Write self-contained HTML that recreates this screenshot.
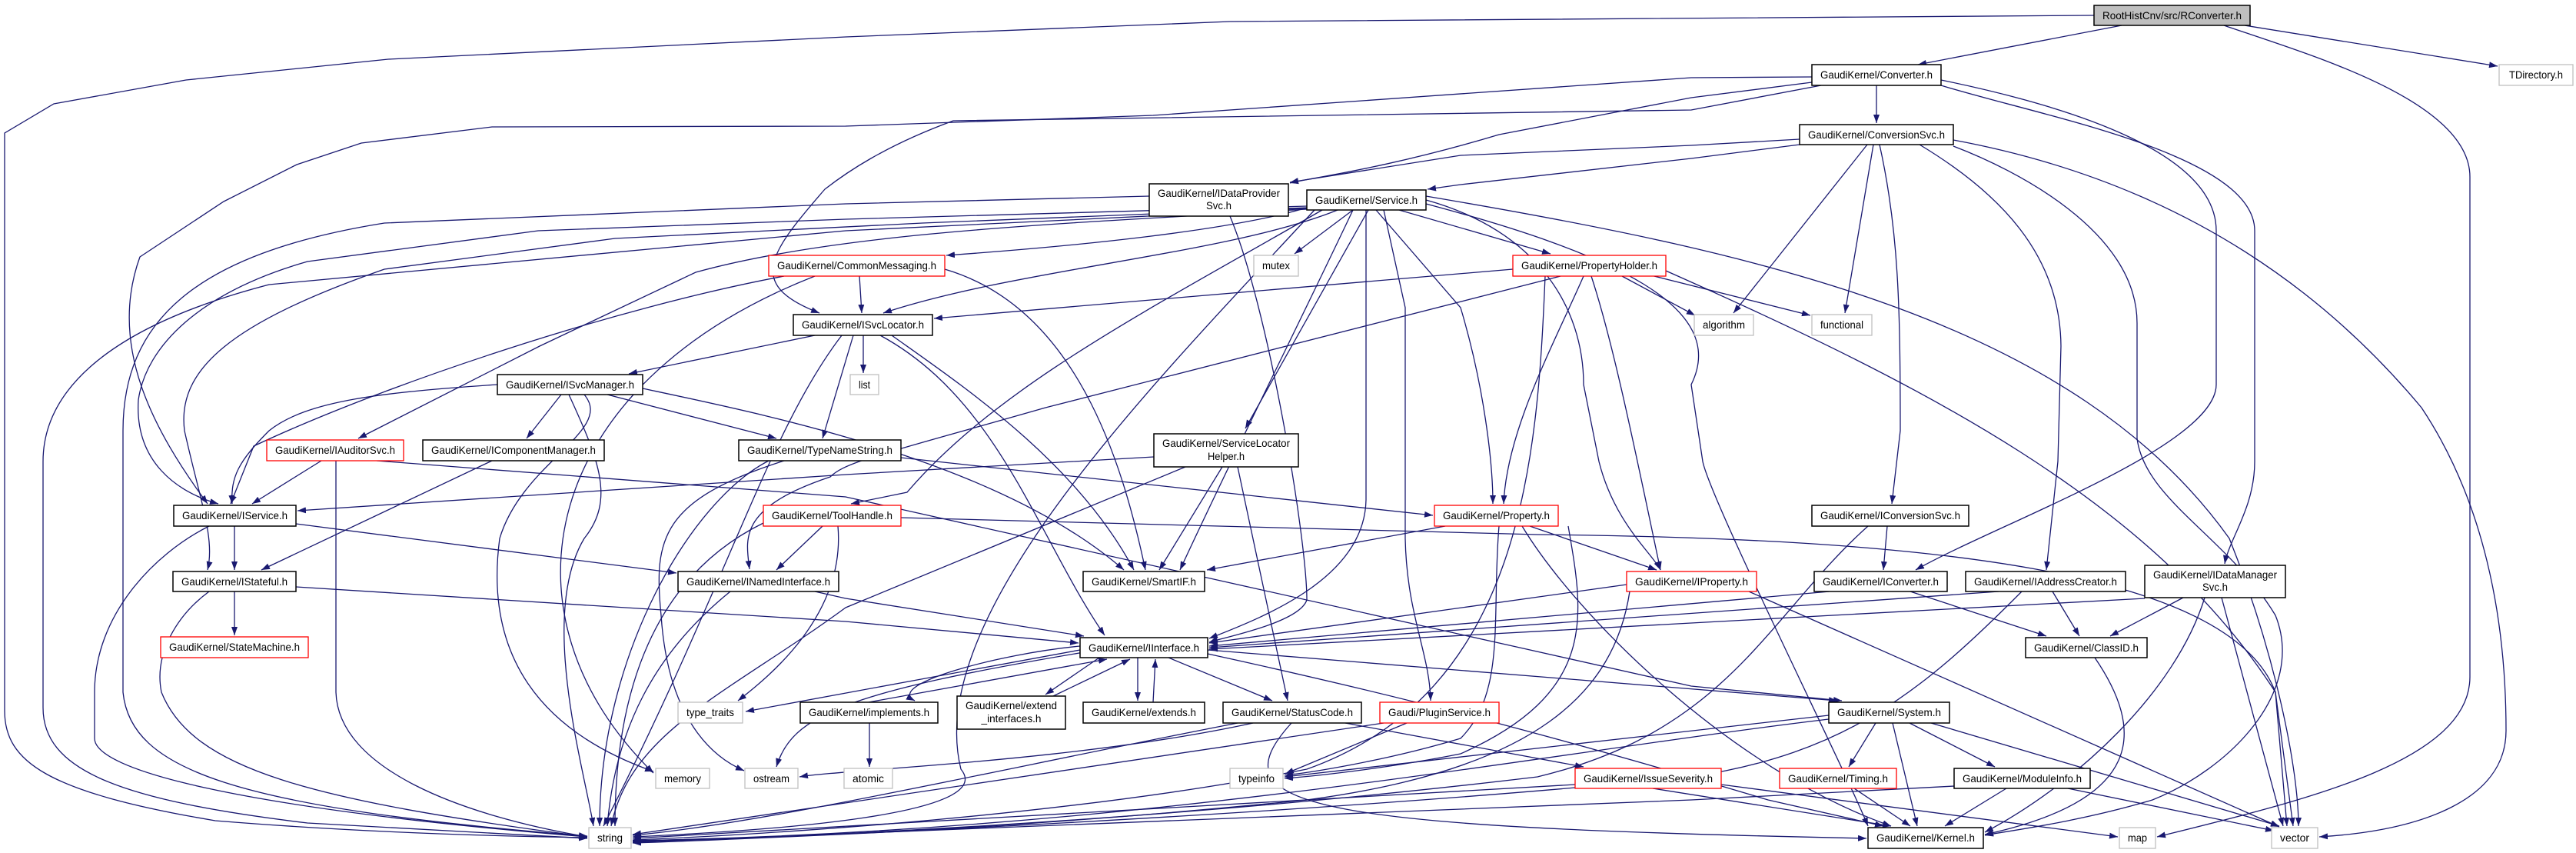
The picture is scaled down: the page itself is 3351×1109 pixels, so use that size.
<!DOCTYPE html>
<html><head><meta charset="utf-8"><style>
html,body{margin:0;padding:0;background:#fff;}
svg{display:block;}
text{font-family:"Liberation Sans",sans-serif;font-size:14px;fill:#000;}
.e{fill:none;stroke:#191970;stroke-width:1.3;marker-end:url(#a);}
.n{fill:#fff;stroke:#000;stroke-width:1.5;}
.r{fill:#fff;stroke:#ff0000;stroke-width:1.3;}
.g{fill:#fff;stroke:#bfbfbf;stroke-width:1.3;}
</style></head><body>
<svg width="3351" height="1109" viewBox="0 0 3351 1109" xmlns="http://www.w3.org/2000/svg">
<defs><marker id="a" markerUnits="userSpaceOnUse" markerWidth="11" markerHeight="8" refX="11" refY="4" orient="auto"><path d="M0,0 L11,4 L0,8 z" fill="#191970"/></marker></defs>
<g>
<path class="e" d="M2724,20 L1600,28 L1100,48 L505,77 L242,104 L70,135 L6,173 L6,924 C6,990 60,1030 280,1067 C500,1085 700,1088 764,1089"/>
<path class="e" d="M2760,33 L2495,84"/>
<path class="e" d="M2920,33 L3249,86"/>
<path class="e" d="M2893,33 C3000,70 3213,130 3213,230 L3213,880 C3213,990 3000,1040 2806,1088"/>
<path class="e" d="M2441,111 L2441,160"/>
<path class="e" d="M2357,100 L2200,101 L1500,150 L1100,164 L640,165 L470,186 L386,214 L291,262 L182,334 C140,450 200,560 270,655"/>
<path class="e" d="M2357,107 L2200,127 L1950,175 C1800,220 1700,232 1678,238"/>
<path class="e" d="M2369,111 L2200,143 L1240,157 C1150,190 1100,225 1073,246 C1000,330 970,370 1066,407"/>
<path class="e" d="M2525,104 C2700,140 2883,200 2883,300 L2883,500 C2883,580 2600,680 2492,741"/>
<path class="e" d="M2525,111 C2650,150 2933,200 2933,300 L2933,600 C2933,660 2900,700 2894,733"/>
<path class="e" d="M2429,188 L2255,407"/>
<path class="e" d="M2437,188 L2400,407"/>
<path class="e" d="M2445,188 C2470,300 2472,400 2472,560 L2461,655"/>
<path class="e" d="M2497,188 C2600,250 2680,330 2681,450 L2677,600 L2662,741"/>
<path class="e" d="M2541,190 C2620,220 2780,300 2780,420 L2780,570 C2790,650 2900,700 2960,800 C3000,900 2900,1000 2800,1040 C2700,1070 2600,1082 2582,1086"/>
<path class="e" d="M2541,182 C2800,230 3000,350 3150,530 C3230,650 3260,800 3260,950 C3260,1040 3150,1080 3017,1088"/>
<path class="e" d="M2341,188 L2200,206 L1900,240 L1857,246"/>
<path class="e" d="M2341,181 L2200,189 L1900,202 L1678,237"/>
<path class="e" d="M1700,270 C1600,300 1400,320 1231,332"/>
<path class="e" d="M1760,273 L1684,330"/>
<path class="e" d="M1820,273 L2017,330"/>
<path class="e" d="M1740,273 C1600,330 1320,350 1149,407"/>
<path class="e" d="M1700,268 L1100,285 L700,300 L400,340 C260,380 190,450 180,520 C175,600 230,640 284,655"/>
<path class="e" d="M1700,270 L1200,290 L800,310 L500,350 C300,420 230,480 240,560 C260,650 280,700 270,741"/>
<path class="e" d="M1700,271 L1100,300 L350,370 C120,430 56,520 56,600 L56,920 C56,1000 150,1040 400,1070 L764,1090"/>
<path class="e" d="M1700,272 C1400,290 1100,300 905,354 L702,450 L466,570"/>
<path class="e" d="M1780,273 L1620,557"/>
<path class="e" d="M1800,273 L1828,400 L1828,700 C1830,800 1860,850 1861,911"/>
<path class="e" d="M1777,273 L1777,650 C1775,750 1650,800 1573,830"/>
<path class="e" d="M1790,273 L1900,400 C1930,500 1942,600 1942,655"/>
<path class="e" d="M1855,260 C2000,300 2060,400 2060,500 L2080,600 C2100,680 2150,720 2160,741"/>
<path class="e" d="M1855,265 C2100,330 2250,400 2200,500 L2215,600 C2225,650 2400,1000 2430,1074"/>
<path class="e" d="M1855,255 C2300,330 2700,420 2900,700 C2960,850 2990,1000 2990,1074"/>
<path class="e" d="M1760,273 C1700,400 1600,600 1535,741"/>
<path class="e" d="M1720,273 C1500,400 1300,500 1180,640 L1107,655"/>
<path class="e" d="M1710,273 C1500,500 1200,800 1250,1000 C1300,1060 1000,1080 823,1088"/>
<path class="e" d="M272,684 C200,720 123,800 123,900 L123,960 C123,1000 300,1050 764,1088"/>
<path class="e" d="M272,769 C230,800 200,850 210,900 C250,1000 400,1040 764,1088"/>
<path class="e" d="M437,599 L437,900 C440,1000 600,1060 764,1088"/>
<path class="e" d="M647,500 C500,510 400,520 350,560 C310,600 300,620 302,655"/>
<path class="e" d="M730,513 L685,570"/>
<path class="e" d="M790,513 L1010,570"/>
<path class="e" d="M836,505 C1000,540 1300,600 1462,741"/>
<path class="e" d="M740,513 C780,600 800,650 760,700 C700,800 760,1000 772,1074"/>
<path class="e" d="M760,513 C800,560 680,600 650,700 C630,850 700,950 850,1003"/>
<path class="e" d="M640,599 L340,741"/>
<path class="e" d="M418,599 L328,655"/>
<path class="e" d="M490,599 L1100,646 L1977,842 L2200,892 L2396,911"/>
<path class="e" d="M385,681 L880,745"/>
<path class="e" d="M305,684 L305,741"/>
<path class="e" d="M305,769 L305,826"/>
<path class="e" d="M385,763 L1100,808 L1403,836"/>
<path class="e" d="M1060,769 L1100,778 L1410,827"/>
<path class="e" d="M950,769 C850,850 800,950 790,1074"/>
<path class="e" d="M1000,599 C900,650 780,850 780,1074"/>
<path class="e" d="M1020,599 C860,650 850,700 860,800 C870,950 940,990 968,1002"/>
<path class="e" d="M1172,595 L1864,670"/>
<path class="e" d="M1501,594 L1100,617 L387,664"/>
<path class="e" d="M1590,607 L1508,741"/>
<path class="e" d="M1610,607 L1675,911"/>
<path class="e" d="M1542,607 L1100,790 C950,900 820,950 795,1074"/>
<path class="e" d="M1880,684 L1570,741"/>
<path class="e" d="M1990,684 L2155,741"/>
<path class="e" d="M1950,684 C1940,800 1960,900 1900,960 C1800,990 1700,1005 1671,1008"/>
<path class="e" d="M1980,684 C2050,800 2250,1000 2460,1074"/>
<path class="e" d="M1968,350 L1215,414"/>
<path class="e" d="M2110,359 L2205,410"/>
<path class="e" d="M2140,356 L2355,410"/>
<path class="e" d="M2060,359 C2020,450 1960,560 1956,655"/>
<path class="e" d="M2070,359 C2100,450 2130,600 2160,741"/>
<path class="e" d="M2030,359 L1360,530 C1150,590 1100,600 1080,620 C960,660 970,700 975,740"/>
<path class="e" d="M2010,359 C2000,600 1980,900 1700,1000 C1400,1060 1000,1085 823,1092"/>
<path class="e" d="M2167,352 C2500,500 2800,650 2960,900 L2975,1074"/>
<path class="e" d="M1060,436 L818,486"/>
<path class="e" d="M1123,436 L1123,485"/>
<path class="e" d="M1110,436 L1070,570"/>
<path class="e" d="M1160,436 C1250,500 1400,600 1475,741"/>
<path class="e" d="M1145,436 C1300,520 1350,700 1437,826"/>
<path class="e" d="M1095,436 C1000,560 950,750 785,1074"/>
<path class="e" d="M1118,359 L1121,407"/>
<path class="e" d="M1020,359 C800,400 500,500 330,580 L300,655"/>
<path class="e" d="M1229,350 C1400,400 1460,600 1490,741"/>
<path class="e" d="M1060,359 C700,500 640,800 850,1005"/>
<path class="e" d="M1070,684 L1010,741"/>
<path class="e" d="M1090,684 C1100,800 1000,880 960,911"/>
<path class="e" d="M993,680 C850,750 800,900 800,1074"/>
<path class="e" d="M1172,673 L2000,695 C2500,700 2900,740 2960,900 L2983,1074"/>
<path class="e" d="M1600,281 C1650,400 1700,700 1700,780 C1690,810 1590,829 1573,835"/>
<path class="e" d="M1495,255 L1100,265 L500,290 C250,330 160,420 160,560 L160,900 C170,1000 300,1050 764,1087"/>
<path class="e" d="M1405,840 C1300,850 1150,890 1190,911"/>
<path class="e" d="M1430,855 L1360,903"/>
<path class="e" d="M1480,855 L1480,911"/>
<path class="e" d="M1520,855 L1655,911"/>
<path class="e" d="M1405,845 L970,925"/>
<path class="e" d="M1410,848 C1100,900 1030,930 1010,997"/>
<path class="e" d="M1571,845 L2390,911"/>
<path class="e" d="M1571,850 C1800,900 2000,950 2300,1040 L2450,1074"/>
<path class="e" d="M1500,913 L1503,857"/>
<path class="e" d="M1130,913 L1440,857"/>
<path class="e" d="M1370,905 L1470,857"/>
<path class="e" d="M1131,940 L1131,997"/>
<path class="e" d="M1630,940 C1400,990 1100,1000 1040,1010"/>
<path class="e" d="M1750,940 L2060,997"/>
<path class="e" d="M1680,940 C1580,1050 1700,1075 2428,1090"/>
<path class="e" d="M1610,940 C1300,1000 1000,1070 823,1086"/>
<path class="e" d="M1830,940 L1672,1006"/>
<path class="e" d="M1800,940 L823,1085"/>
<path class="e" d="M2049,1020 L823,1090"/>
<path class="e" d="M2150,1025 L2460,1074"/>
<path class="e" d="M2239,1020 L2755,1088"/>
<path class="e" d="M2379,930 L1671,1010"/>
<path class="e" d="M2440,940 L2405,997"/>
<path class="e" d="M2484,940 L2595,997"/>
<path class="e" d="M2462,940 L2494,1074"/>
<path class="e" d="M2512,940 L2965,1074"/>
<path class="e" d="M2379,935 C2000,980 1500,1080 823,1093"/>
<path class="e" d="M2412,1025 L2485,1074"/>
<path class="e" d="M2610,1025 L2530,1074"/>
<path class="e" d="M2690,1025 L2958,1080"/>
<path class="e" d="M2542,1022 L2200,1040 L823,1095"/>
<path class="e" d="M2380,769 L1573,840"/>
<path class="e" d="M2485,769 L2662,827"/>
<path class="e" d="M2455,684 L2450,741"/>
<path class="e" d="M2430,684 C2300,800 2250,950 2000,1010 C1500,1070 1000,1090 823,1094"/>
<path class="e" d="M2670,769 L2705,827"/>
<path class="e" d="M2600,769 L1573,842"/>
<path class="e" d="M2630,769 C2500,900 2400,980 2200,1010 C1700,1060 1000,1090 823,1096"/>
<path class="e" d="M2840,777 L2745,827"/>
<path class="e" d="M2790,778 L1573,844"/>
<path class="e" d="M2890,777 L2970,1074"/>
<path class="e" d="M2868,777 C2830,900 2700,1020 2582,1082"/>
<path class="e" d="M2725,855 C2790,950 2790,1040 2582,1085"/>
<path class="e" d="M2116,760 L1573,836"/>
<path class="e" d="M2275,769 L2965,1075"/>
<path class="e" d="M2120,769 C2100,900 2000,1000 1700,1040 C1300,1080 1000,1090 823,1093"/>
<path class="e" d="M2040,684 C2060,800 2080,900 1900,980 C1800,1000 1700,1010 1671,1012"/>
</g>
<g>
<rect x="2724" y="7" width="203" height="26" fill="#bfbfbf" stroke="#000" stroke-width="1.5"/><text x="2825.5" y="25" text-anchor="middle" textLength="181" lengthAdjust="spacingAndGlyphs">RootHistCnv/src/RConverter.h</text>
<rect class="n" x="2357" y="84" width="168" height="27"/><text x="2441" y="102" text-anchor="middle" textLength="146" lengthAdjust="spacingAndGlyphs">GaudiKernel/Converter.h</text>
<rect class="g" x="3251" y="84" width="96" height="27"/><text x="3299" y="102" text-anchor="middle" textLength="70" lengthAdjust="spacingAndGlyphs">TDirectory.h</text>
<rect class="n" x="2341" y="162" width="200" height="26"/><text x="2441" y="180" text-anchor="middle" textLength="178" lengthAdjust="spacingAndGlyphs">GaudiKernel/ConversionSvc.h</text>
<rect class="n" x="1495" y="239" width="181" height="42"/><text x="1585.5" y="256" text-anchor="middle" textLength="159" lengthAdjust="spacingAndGlyphs">GaudiKernel/IDataProvider</text><text x="1585.5" y="272" text-anchor="middle" textLength="33" lengthAdjust="spacingAndGlyphs">Svc.h</text>
<rect class="n" x="1700" y="247" width="155" height="26"/><text x="1777.5" y="265" text-anchor="middle" textLength="133" lengthAdjust="spacingAndGlyphs">GaudiKernel/Service.h</text>
<rect class="r" x="1000" y="332" width="229" height="27"/><text x="1114.5" y="350" text-anchor="middle" textLength="207" lengthAdjust="spacingAndGlyphs">GaudiKernel/CommonMessaging.h</text>
<rect class="g" x="1631" y="332" width="58" height="27"/><text x="1660" y="350" text-anchor="middle" textLength="36" lengthAdjust="spacingAndGlyphs">mutex</text>
<rect class="r" x="1968" y="332" width="199" height="27"/><text x="2067.5" y="350" text-anchor="middle" textLength="177" lengthAdjust="spacingAndGlyphs">GaudiKernel/PropertyHolder.h</text>
<rect class="g" x="2204" y="409" width="77" height="27"/><text x="2242.5" y="427" text-anchor="middle" textLength="55" lengthAdjust="spacingAndGlyphs">algorithm</text>
<rect class="g" x="2357" y="409" width="78" height="27"/><text x="2396" y="427" text-anchor="middle" textLength="56" lengthAdjust="spacingAndGlyphs">functional</text>
<rect class="n" x="1032" y="409" width="181" height="27"/><text x="1122.5" y="427" text-anchor="middle" textLength="159" lengthAdjust="spacingAndGlyphs">GaudiKernel/ISvcLocator.h</text>
<rect class="g" x="1106" y="487" width="37" height="26"/><text x="1124.5" y="505" text-anchor="middle" textLength="15" lengthAdjust="spacingAndGlyphs">list</text>
<rect class="n" x="647" y="487" width="189" height="26"/><text x="741.5" y="505" text-anchor="middle" textLength="167" lengthAdjust="spacingAndGlyphs">GaudiKernel/ISvcManager.h</text>
<rect class="r" x="347" y="572" width="178" height="27"/><text x="436" y="590" text-anchor="middle" textLength="156" lengthAdjust="spacingAndGlyphs">GaudiKernel/IAuditorSvc.h</text>
<rect class="n" x="550" y="572" width="236" height="27"/><text x="668" y="590" text-anchor="middle" textLength="214" lengthAdjust="spacingAndGlyphs">GaudiKernel/IComponentManager.h</text>
<rect class="n" x="961" y="572" width="211" height="27"/><text x="1066.5" y="590" text-anchor="middle" textLength="189" lengthAdjust="spacingAndGlyphs">GaudiKernel/TypeNameString.h</text>
<rect class="n" x="1501" y="564" width="188" height="43"/><text x="1595" y="581" text-anchor="middle" textLength="166" lengthAdjust="spacingAndGlyphs">GaudiKernel/ServiceLocator</text><text x="1595" y="598" text-anchor="middle" textLength="48" lengthAdjust="spacingAndGlyphs">Helper.h</text>
<rect class="n" x="226" y="657" width="159" height="27"/><text x="305.5" y="675" text-anchor="middle" textLength="137" lengthAdjust="spacingAndGlyphs">GaudiKernel/IService.h</text>
<rect class="r" x="993" y="657" width="179" height="27"/><text x="1082.5" y="675" text-anchor="middle" textLength="157" lengthAdjust="spacingAndGlyphs">GaudiKernel/ToolHandle.h</text>
<rect class="r" x="1866" y="657" width="161" height="27"/><text x="1946.5" y="675" text-anchor="middle" textLength="139" lengthAdjust="spacingAndGlyphs">GaudiKernel/Property.h</text>
<rect class="n" x="2357" y="657" width="204" height="27"/><text x="2459" y="675" text-anchor="middle" textLength="182" lengthAdjust="spacingAndGlyphs">GaudiKernel/IConversionSvc.h</text>
<rect class="n" x="225" y="743" width="160" height="26"/><text x="305" y="761" text-anchor="middle" textLength="138" lengthAdjust="spacingAndGlyphs">GaudiKernel/IStateful.h</text>
<rect class="n" x="882" y="743" width="209" height="26"/><text x="986.5" y="761" text-anchor="middle" textLength="187" lengthAdjust="spacingAndGlyphs">GaudiKernel/INamedInterface.h</text>
<rect class="n" x="1409" y="743" width="158" height="26"/><text x="1488" y="761" text-anchor="middle" textLength="136" lengthAdjust="spacingAndGlyphs">GaudiKernel/SmartIF.h</text>
<rect class="r" x="2116" y="743" width="169" height="26"/><text x="2200.5" y="761" text-anchor="middle" textLength="147" lengthAdjust="spacingAndGlyphs">GaudiKernel/IProperty.h</text>
<rect class="n" x="2360" y="743" width="173" height="26"/><text x="2446.5" y="761" text-anchor="middle" textLength="151" lengthAdjust="spacingAndGlyphs">GaudiKernel/IConverter.h</text>
<rect class="n" x="2557" y="743" width="208" height="26"/><text x="2661" y="761" text-anchor="middle" textLength="186" lengthAdjust="spacingAndGlyphs">GaudiKernel/IAddressCreator.h</text>
<rect class="n" x="2790" y="735" width="183" height="42"/><text x="2881.5" y="752" text-anchor="middle" textLength="161" lengthAdjust="spacingAndGlyphs">GaudiKernel/IDataManager</text><text x="2881.5" y="768" text-anchor="middle" textLength="33" lengthAdjust="spacingAndGlyphs">Svc.h</text>
<rect class="r" x="209" y="828" width="192" height="27"/><text x="305" y="846" text-anchor="middle" textLength="170" lengthAdjust="spacingAndGlyphs">GaudiKernel/StateMachine.h</text>
<rect class="n" x="1405" y="829" width="166" height="26"/><text x="1488" y="847" text-anchor="middle" textLength="144" lengthAdjust="spacingAndGlyphs">GaudiKernel/IInterface.h</text>
<rect class="n" x="2635" y="829" width="158" height="26"/><text x="2714" y="847" text-anchor="middle" textLength="136" lengthAdjust="spacingAndGlyphs">GaudiKernel/ClassID.h</text>
<rect class="g" x="882" y="913" width="84" height="27"/><text x="924" y="931" text-anchor="middle" textLength="62" lengthAdjust="spacingAndGlyphs">type_traits</text>
<rect class="n" x="1041" y="913" width="179" height="27"/><text x="1130.5" y="931" text-anchor="middle" textLength="157" lengthAdjust="spacingAndGlyphs">GaudiKernel/implements.h</text>
<rect class="n" x="1245" y="905" width="141" height="43"/><text x="1315.5" y="922" text-anchor="middle" textLength="119" lengthAdjust="spacingAndGlyphs">GaudiKernel/extend</text><text x="1315.5" y="939" text-anchor="middle" textLength="78" lengthAdjust="spacingAndGlyphs">_interfaces.h</text>
<rect class="n" x="1409" y="913" width="158" height="27"/><text x="1488" y="931" text-anchor="middle" textLength="136" lengthAdjust="spacingAndGlyphs">GaudiKernel/extends.h</text>
<rect class="n" x="1591" y="913" width="180" height="27"/><text x="1681" y="931" text-anchor="middle" textLength="158" lengthAdjust="spacingAndGlyphs">GaudiKernel/StatusCode.h</text>
<rect class="r" x="1795" y="913" width="155" height="27"/><text x="1872.5" y="931" text-anchor="middle" textLength="133" lengthAdjust="spacingAndGlyphs">Gaudi/PluginService.h</text>
<rect class="n" x="2379" y="913" width="157" height="27"/><text x="2457.5" y="931" text-anchor="middle" textLength="135" lengthAdjust="spacingAndGlyphs">GaudiKernel/System.h</text>
<rect class="g" x="853" y="999" width="70" height="26"/><text x="888" y="1017" text-anchor="middle" textLength="48" lengthAdjust="spacingAndGlyphs">memory</text>
<rect class="g" x="969" y="999" width="69" height="26"/><text x="1003.5" y="1017" text-anchor="middle" textLength="47" lengthAdjust="spacingAndGlyphs">ostream</text>
<rect class="g" x="1098" y="999" width="63" height="26"/><text x="1129.5" y="1017" text-anchor="middle" textLength="41" lengthAdjust="spacingAndGlyphs">atomic</text>
<rect class="g" x="1600" y="999" width="69" height="26"/><text x="1634.5" y="1017" text-anchor="middle" textLength="47" lengthAdjust="spacingAndGlyphs">typeinfo</text>
<rect class="r" x="2049" y="999" width="190" height="26"/><text x="2144" y="1017" text-anchor="middle" textLength="168" lengthAdjust="spacingAndGlyphs">GaudiKernel/IssueSeverity.h</text>
<rect class="r" x="2315" y="999" width="152" height="26"/><text x="2391" y="1017" text-anchor="middle" textLength="130" lengthAdjust="spacingAndGlyphs">GaudiKernel/Timing.h</text>
<rect class="n" x="2542" y="999" width="177" height="26"/><text x="2630.5" y="1017" text-anchor="middle" textLength="155" lengthAdjust="spacingAndGlyphs">GaudiKernel/ModuleInfo.h</text>
<rect class="g" x="766" y="1076" width="55" height="27"/><text x="793.5" y="1094" text-anchor="middle" textLength="33" lengthAdjust="spacingAndGlyphs">string</text>
<rect class="n" x="2430" y="1076" width="150" height="27"/><text x="2505" y="1094" text-anchor="middle" textLength="128" lengthAdjust="spacingAndGlyphs">GaudiKernel/Kernel.h</text>
<rect class="g" x="2757" y="1076" width="47" height="27"/><text x="2780.5" y="1094" text-anchor="middle" textLength="25" lengthAdjust="spacingAndGlyphs">map</text>
<rect class="g" x="2955" y="1076" width="60" height="27"/><text x="2985" y="1094" text-anchor="middle" textLength="38" lengthAdjust="spacingAndGlyphs">vector</text>
</g>
</svg>
</body></html>
